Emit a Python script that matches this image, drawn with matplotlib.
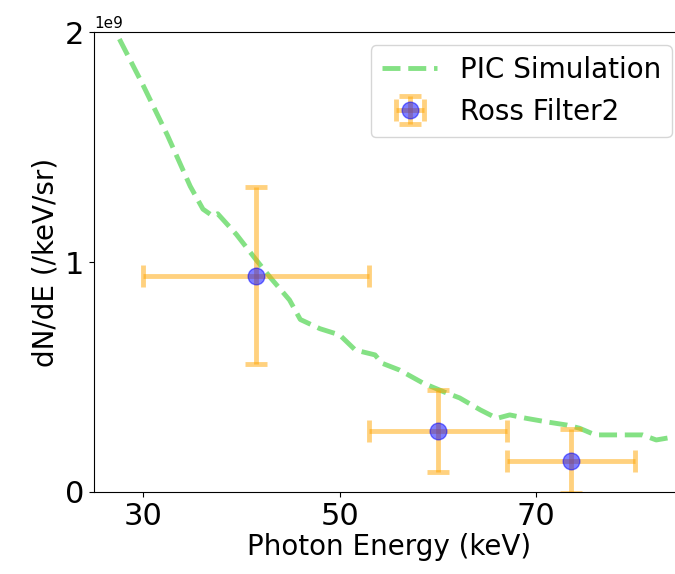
import numpy as np
import matplotlib
matplotlib.use('Agg')
import matplotlib.pyplot as plt

# PIC simulation spectrum
sim_energy = [27.6, 30.0, 32.5, 34.8, 36.1, 37.1, 37.6, 39.5, 41.5, 43.0, 44.9,
              46.0, 48.0, 50.0, 51.6, 53.6, 54.3, 56.1, 58.5, 60.9, 62.2, 64.3,
              66.0, 67.3, 69.0, 71.0, 73.1, 74.4, 76.0, 77.8, 79.2, 80.8, 82.2, 84.1]
sim_dnde = [1.97, 1.77, 1.55, 1.33, 1.23, 1.20, 1.21, 1.12, 1.01, 0.93, 0.835,
            0.75, 0.71, 0.683, 0.617, 0.596, 0.56, 0.53, 0.473, 0.43, 0.409, 0.357,
            0.32, 0.335, 0.32, 0.305, 0.291, 0.277, 0.248, 0.248, 0.248, 0.248, 0.226, 0.24]

# Ross filter measurements
ross_energy = [41.5, 60.0, 73.5]
ross_energy_err = [11.5, 7.0, 6.5]
ross_dnde = [0.94, 0.265, 0.135]
ross_dnde_err = [0.385, 0.18, 0.14]

scale = 1e9

fig = plt.figure(figsize=(6.75, 5.74), dpi=100)
ax = fig.add_axes([0.139, 0.143, 0.874, 0.801])

ax.plot(sim_energy, np.array(sim_dnde) * scale, '--', color='limegreen',
        alpha=0.6, lw=3.5, label='PIC Simulation')
ax.errorbar(ross_energy, np.array(ross_dnde) * scale,
            xerr=ross_energy_err, yerr=np.array(ross_dnde_err) * scale,
            fmt='o', color='blue', alpha=0.5, markersize=12,
            ecolor='orange', elinewidth=3.5, capsize=8, capthick=3.5,
            label='Ross Filter2')

ax.set_xlim(25, 85)
ax.set_ylim(0, 2e9)
ax.set_xticks([30, 50, 70])
ax.set_yticks([0, 1e9, 2e9])
ax.tick_params(labelsize=22)
ax.yaxis.get_offset_text().set_fontsize(11)
ax.spines['right'].set_visible(False)

ax.set_xlabel('Photon Energy (keV)', fontsize=20, labelpad=2)
ax.set_ylabel('dN/dE (/keV/sr)', fontsize=20)
ax.legend(loc='upper right', fontsize=20, bbox_to_anchor=(0.98, 0.972),
          borderaxespad=0)

fig.savefig('out.png', dpi=100)
